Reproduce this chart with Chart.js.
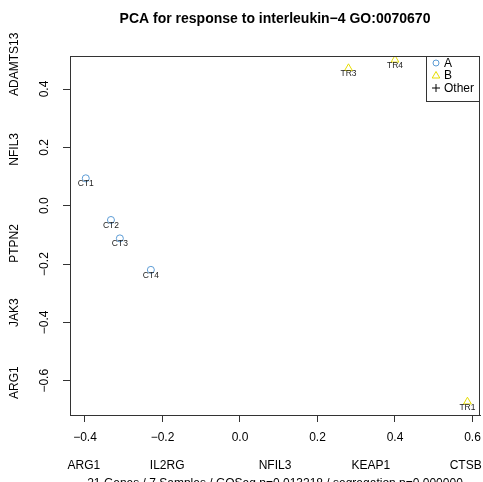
<!DOCTYPE html>
<html>
<head>
<meta charset="utf-8">
<script src="https://cdn.jsdelivr.net/npm/chart.js@4.4.1/dist/chart.umd.min.js"></script>
<style>
html,body{margin:0;padding:0;background:#fff;}
canvas{display:block;}
</style>
</head>
<body>
<canvas id="c" width="483" height="482"></canvas>
<script>
// ---- data ----
const titleText = 'PCA for response to interleukin\u22124 GO:0070670';
const subtitleText = '21 Genes / 7 Samples / GOSeq p=0.013218 / segregation p=0.000000';
const labelsA = ['CT1', 'CT2', 'CT3', 'CT4'];
const xA = [-0.398, -0.333, -0.310, -0.230];
const yA = [0.094, -0.049, -0.112, -0.220];
const labelsB = ['TR1', 'TR3', 'TR4'];
const xB = [0.587, 0.280, 0.400];
const yB = [-0.672, 0.471, 0.500];
const xTicks = [-0.4, -0.2, 0.0, 0.2, 0.4, 0.6];
const yTicks = [-0.6, -0.4, -0.2, 0.0, 0.2, 0.4];
const xGenes = ['ARG1', 'IL2RG', 'NFIL3', 'KEAP1', 'CTSB'];
const yGenes = ['ARG1', 'JAK3', 'PTPN2', 'NFIL3', 'ADAMTS13'];
const legendNames = ['A', 'B', 'Other'];

// ---- styles ----
const colA = '#5b9bd5';
const colB = '#e6dc00';
const FONT = '"Liberation Sans", Arial, Helvetica, sans-serif';
const xGenePos = [0.034, 0.237, 0.500, 0.734, 0.965];
const yGenePos = [0.090, 0.285, 0.478, 0.740, 0.977];

function fmt(v) {
  if (Math.abs(v) < 1e-9) return '0.0';
  const s = Math.abs(v).toFixed(1);
  return v < 0 ? '\u2212' + s : s;
}

const ptsA = xA.map((x, i) => ({x: x, y: yA[i], label: labelsA[i]}));
const ptsB = xB.map((x, i) => ({x: x, y: yB[i], label: labelsB[i]}));

const extras = {
  id: 'extras',
  afterDraw(chart) {
    const ctx = chart.ctx;
    const a = chart.chartArea;
    const xs = chart.scales.x, ys = chart.scales.y;
    ctx.save();
    // box
    ctx.strokeStyle = '#333';
    ctx.lineWidth = 1;
    ctx.strokeRect(a.left + 0.5, a.top + 0.5, a.right - a.left - 1, a.bottom - a.top);
    // point labels
    ctx.fillStyle = '#222';
    ctx.font = '8.5px ' + FONT;
    ctx.textAlign = 'center';
    ctx.textBaseline = 'middle';
    chart.data.datasets.forEach((ds, di) => {
      const meta = chart.getDatasetMeta(di);
      meta.data.forEach((el, i) => {
        ctx.fillText(ds.data[i].label, el.x, el.y + 5.5);
      });
    });
    ctx.fillStyle = '#000';
    ctx.font = '12px ' + FONT;
    // x tick labels
    xTicks.forEach(v => {
      ctx.fillText(fmt(v), xs.getPixelForValue(v), a.bottom + 23);
    });
    // y tick labels (rotated)
    yTicks.forEach(v => {
      const py = ys.getPixelForValue(v);
      ctx.save();
      ctx.translate(a.left - 25, py);
      ctx.rotate(-Math.PI / 2);
      ctx.fillText(fmt(v), 0, 0);
      ctx.restore();
    });
    // y gene names
    yGenes.forEach((g, i) => {
      const py = a.bottom - yGenePos[i] * (a.bottom - a.top);
      ctx.save();
      ctx.translate(15, py);
      ctx.rotate(-Math.PI / 2);
      ctx.fillText(g, 0, 0);
      ctx.restore();
    });
    // x gene names
    xGenes.forEach((g, i) => {
      const px = a.left + xGenePos[i] * (a.right - a.left);
      ctx.fillText(g, px, 466);
    });
    // subtitle
    ctx.fillText(subtitleText, (a.left + a.right) / 2, 484);
    // title
    ctx.font = 'bold 14px ' + FONT;
    ctx.fillText(titleText, (a.left + a.right) / 2, 19);
    // legend
    const lw = 54, lh = 45;
    const lx = a.right - lw, ly = a.top;
    ctx.fillStyle = '#fff';
    ctx.fillRect(lx, ly, lw, lh);
    ctx.strokeStyle = '#333';
    ctx.strokeRect(lx + 0.5, ly + 0.5, lw - 1, lh);
    const rowY = [ly + 7, ly + 19.5, ly + 32];
    const sx = lx + 10;
    ctx.lineWidth = 1;
    ctx.strokeStyle = colA;
    ctx.beginPath(); ctx.arc(sx, rowY[0], 3, 0, Math.PI * 2); ctx.stroke();
    ctx.strokeStyle = colB;
    ctx.beginPath();
    ctx.moveTo(sx, rowY[1] - 4); ctx.lineTo(sx + 3.8, rowY[1] + 2.5); ctx.lineTo(sx - 3.8, rowY[1] + 2.5); ctx.closePath();
    ctx.stroke();
    ctx.strokeStyle = '#000';
    ctx.beginPath();
    ctx.moveTo(sx - 4, rowY[2]); ctx.lineTo(sx + 4, rowY[2]);
    ctx.moveTo(sx, rowY[2] - 4); ctx.lineTo(sx, rowY[2] + 4);
    ctx.stroke();
    ctx.fillStyle = '#000';
    ctx.font = '12px ' + FONT;
    ctx.textAlign = 'left';
    legendNames.forEach((n, i) => ctx.fillText(n, lx + 18, rowY[i] + 0.5));
    ctx.restore();
  }
};

new Chart(document.getElementById('c'), {
  type: 'scatter',
  data: {
    datasets: [
      {label: 'A', data: ptsA, pointStyle: 'circle', pointRadius: 3.5, pointHoverRadius: 3.5,
       borderColor: colA, backgroundColor: 'rgba(0,0,0,0)', borderWidth: 1},
      {label: 'B', data: ptsB, pointStyle: 'triangle', pointRadius: 4.5, pointHoverRadius: 4.5,
       borderColor: colB, backgroundColor: 'rgba(0,0,0,0)', borderWidth: 1}
    ]
  },
  options: {
    responsive: false,
    animation: false,
    devicePixelRatio: 1,
    layout: {autoPadding: false, padding: {left: 0, right: 3, top: 56, bottom: 0}},
    plugins: {legend: {display: false}, title: {display: false}, tooltip: {enabled: false}},
    events: [],
    scales: {
      x: {
        type: 'linear', min: -0.4387, max: 0.6194,
        afterFit(s) { s.height = 67; s.paddingLeft = 0; s.paddingRight = 0; },
        border: {display: true, color: '#333', width: 1},
        grid: {display: true, drawOnChartArea: false, drawTicks: true, tickLength: 7, color: '#333'},
        afterBuildTicks(s) { s.ticks = xTicks.map(v => ({value: v})); },
        ticks: {display: false, includeBounds: false}
      },
      y: {
        type: 'linear', min: -0.7175, max: 0.5132,
        afterFit(s) { s.width = 70; s.paddingTop = 0; s.paddingBottom = 0; },
        border: {display: true, color: '#333', width: 1},
        grid: {display: true, drawOnChartArea: false, drawTicks: true, tickLength: 7, color: '#333'},
        afterBuildTicks(s) { s.ticks = yTicks.map(v => ({value: v})); },
        ticks: {display: false, includeBounds: false}
      }
    }
  },
  plugins: [extras]
});
</script>
</body>
</html>
